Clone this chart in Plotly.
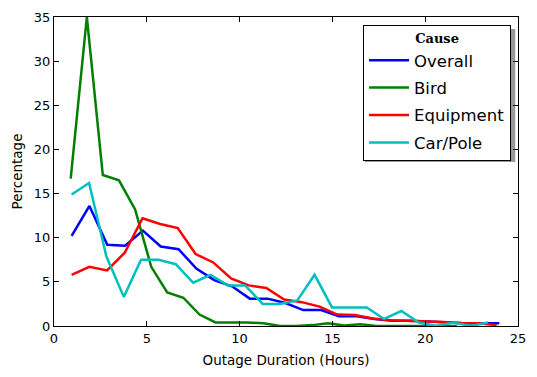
import plotly.graph_objects as go

# bin centres (hours) for each cause
hours_overall = [0.95, 1.91, 2.87, 3.83, 4.79, 5.75, 6.71, 7.67, 8.63, 9.59, 10.55, 11.51, 12.47,
                 13.43, 14.39, 15.35, 16.31, 17.27, 18.23, 19.19, 20.15, 21.11, 22.07, 23.03, 23.99]
hours_bird = [0.90, 1.77, 2.63, 3.50, 4.37, 5.24, 6.10, 6.97, 7.84, 8.70, 9.57, 10.44, 11.30,
              12.17, 13.04, 13.91, 14.77, 15.64, 16.51, 17.37, 18.24, 19.11, 19.97, 20.84, 21.71]
hours_equipment = [0.95, 1.90, 2.86, 3.81, 4.77, 5.72, 6.67, 7.63, 8.58, 9.54, 10.49, 11.44, 12.40,
                   13.35, 14.31, 15.26, 16.21, 17.17, 18.12, 19.08, 20.03, 20.98, 21.94, 22.89, 23.85]
hours_carpole = [0.95, 1.89, 2.82, 3.76, 4.69, 5.63, 6.56, 7.50, 8.43, 9.37, 10.30, 11.24, 12.17,
                 13.11, 14.04, 14.98, 15.91, 16.85, 17.78, 18.72, 19.65, 20.59, 21.52, 22.46, 23.39]

pct_overall = [10.2, 13.6, 9.2, 9.1, 10.8, 9.0, 8.7, 6.5, 5.2, 4.5, 3.1, 3.1, 2.6,
               1.8, 1.8, 1.1, 1.1, 0.8, 0.6, 0.6, 0.5, 0.4, 0.3, 0.3, 0.3]
pct_bird = [16.7, 35.0, 17.1, 16.5, 13.2, 6.7, 3.8, 3.2, 1.3, 0.4, 0.4, 0.4, 0.3,
            0.0, 0.0, 0.1, 0.3, 0.05, 0.2, 0.0, 0.0, 0.0, 0.0, 0.0, 0.0]
pct_equipment = [5.8, 6.7, 6.3, 8.3, 12.2, 11.55, 11.1, 8.15, 7.2, 5.4, 4.6, 4.3, 3.0,
                 2.7, 2.2, 1.3, 1.25, 0.85, 0.65, 0.6, 0.55, 0.45, 0.35, 0.3, 0.1]
pct_carpole = [14.9, 16.2, 7.9, 3.3, 7.5, 7.5, 7.0, 4.9, 5.8, 4.6, 4.6, 2.5, 2.5,
               2.9, 5.8, 2.1, 2.1, 2.1, 0.8, 1.7, 0.4, 0.0, 0.4, 0.0, 0.4]

series = [
    ("Overall", hours_overall, pct_overall, "#0000ff"),
    ("Bird", hours_bird, pct_bird, "#008000"),
    ("Equipment", hours_equipment, pct_equipment, "#ff0000"),
    ("Car/Pole", hours_carpole, pct_carpole, "#00bfbf"),
]

fig = go.Figure()
for name, x, y, col in series:
    fig.add_trace(go.Scatter(x=x, y=y, name=name, mode="lines", legendgroup=name,
                             line=dict(color=col, width=2.5)))

axis_style = dict(showline=True, linecolor="black", linewidth=1, mirror="allticks",
                  ticks="inside", ticklen=5, tickcolor="black", showgrid=False,
                  zeroline=False, automargin=False, tickfont=dict(size=13, color="black"))

fig.update_xaxes(range=[0, 25], dtick=5, title=dict(text="Outage Duration (Hours)",
                 font=dict(size=13.5, color="black"), standoff=10), **axis_style)
fig.update_yaxes(range=[0, 35], dtick=5, title=dict(text="Percentage",
                 font=dict(size=13.5, color="black"), standoff=8), **axis_style)

# legend drop shadow
fig.add_shape(type="rect", xref="paper", yref="paper", x0=0.670, x1=0.994, y0=0.531, y1=0.961,
              fillcolor="#999999", line_width=0, layer="below")

# page has an 8px body margin, so the figure is a bit smaller than the window
fig.update_layout(
    width=529, height=369,
    margin=dict(l=46, r=19, t=9, b=51),
    plot_bgcolor="white", paper_bgcolor="white",
    font=dict(family="DejaVu Sans", color="black"),
    legend=dict(x=0.985, y=0.974, xanchor="right", yanchor="top",
                bgcolor="white", bordercolor="black", borderwidth=1,
                font=dict(size=16.5, color="black"), tracegroupgap=3,
                itemwidth=40,
                title=dict(text="<b>Cause</b>", side="top center",
                           font=dict(family="DejaVu Serif", size=13))),
)

fig.write_html("out.html")
